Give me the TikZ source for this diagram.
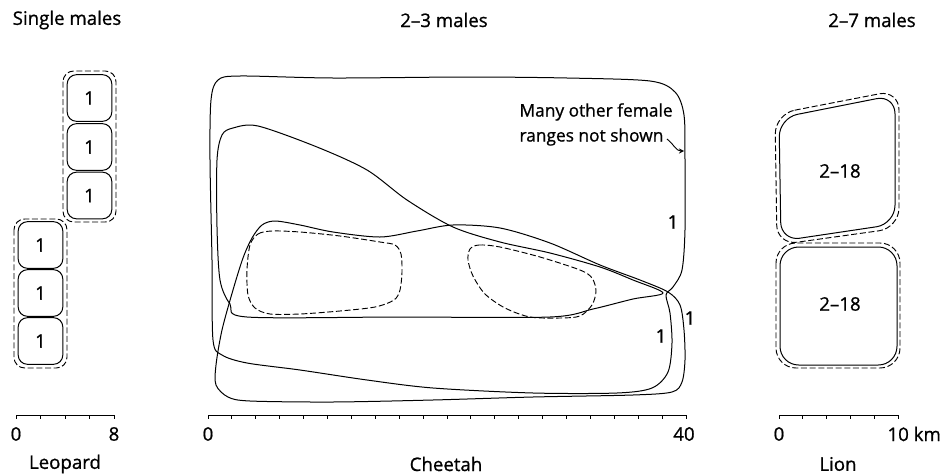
\documentclass[tikz,border=0pt]{standalone}
\usepackage{fontspec}
\setmainfont{Open Sans}[FakeBold=0.9]
\usetikzlibrary{arrows, positioning}

\begin{document}
\begin{tikzpicture}[>=stealth, x=0.75pt, y=-0.75pt, line width=0.75pt,
    fem/.style={line width=0.75pt},
    male/.style={line width=0.7pt, dash pattern=on 4.5pt off 2pt},
    lbl/.style={font=\fontsize{14}{16.5}\selectfont, inner sep=0pt},
    note/.style={font=\fontsize{13}{15}\selectfont, inner sep=0pt, anchor=west},
    fbox/.style={draw, rounded corners=7pt, minimum width=33.5pt, minimum height=35pt, inner sep=0pt, font=\fontsize{14}{16.5}\selectfont}]
    \useasboundingbox (0,0) rectangle (950,475);

    % --- Leopard ---
    \begin{scope}
        \node[lbl] (lpTitle) at (67,20) {Single males};
        \node[fbox] (lpA1) at (89.5,98) {1};
        \node[fbox] (lpA2) at (89.5,147) {1};
        \node[fbox] (lpA3) at (89.5,195.5) {1};
        \node[fbox] (lpB1) at (40.5,245) {1};
        \node[fbox] (lpB2) at (40.5,293) {1};
        \node[fbox] (lpB3) at (40.5,341) {1};
        \draw[male, rounded corners=8pt] (63,71) rectangle (116,222);
        \draw[male, rounded corners=8pt] (14,219) rectangle (67,368);
        \draw (16,415) -- (114,415);
        \foreach \i in {0,...,4} \draw (16+24.5*\i,415) -- ++(0,4);
        \node[lbl] (lpZero) at (16,434) {0};
        \node[lbl] (lpEight) at (114,434) {8};
        \node[lbl] (lpName) at (65,464) {Leopard};
    \end{scope}

    % --- Cheetah ---
    \begin{scope}
        \node[lbl] (chTitle) at (444,20) {2–3 males};
        % female ranges
        \draw[fem] plot[smooth cycle, tension=0.5] coordinates {
            (218,80) (240,76) (333,78) (467,77) (567,78) (650,81) (675,92) (684,115)
            (685,160) (685,230) (682,270) (673,287) (666,295) (670,313) (672,343)
            (668,372) (652,388) (617,393) (533,393) (433,388) (367,380) (300,370)
            (247,363) (222,355) (213,340) (212,260) (210,160) (211,100)};
        \draw[fem] plot[smooth cycle, tension=0.5] coordinates {
            (233,128) (258,126) (317,147) (367,170) (407,200) (453,227) (500,242)
            (550,253) (600,267) (633,280) (663,293) (633,299) (593,309) (550,317)
            (400,317) (247,317) (230,304) (220,280) (217,227) (217,160) (222,135)};
        \draw[fem] plot[smooth cycle, tension=0.5] coordinates {
            (262,225) (275,221) (300,225) (333,232) (380,237) (417,231) (453,225)
            (500,228) (550,243) (600,265) (640,280) (668,292) (680,305) (684,330)
            (685,360) (682,382) (672,392) (633,395) (533,397) (433,400) (333,402)
            (250,401) (228,397) (216,385) (216,365) (222,330) (233,290) (243,258)
            (252,238)};
        % male territories
        \draw[male] plot[smooth cycle, tension=0.5] coordinates {
            (250,245) (258,234) (272,231) (300,232) (340,236) (380,242) (395,245)
            (401,254) (402,272) (400,290) (394,300) (375,307) (340,311) (300,314)
            (270,314) (255,308) (248,295) (247,270)};
        \draw[male] plot[smooth cycle, tension=0.5] coordinates {
            (470,249) (479,245) (500,247) (540,257) (580,270) (592,278) (596,291)
            (592,305) (580,316) (560,318) (530,317) (505,308) (485,294) (473,276)
            (468,260)};
        \node[lbl] (chOneA) at (673,222) {1};
        \node[lbl] (chOneB) at (661,336) {1};
        \node[lbl] (chOneC) at (690,318) {1};
        \node[note] (chNoteA) at (519,112) {Many other female};
        \node[note] (chNoteB) at (519,137) {ranges not shown};
        \coordinate (chTip) at (684,151);
        \draw[->, line width=0.7pt] (chNoteB.east) ++(3,2) to[out=-35, in=180] (chTip);
        \draw (208,415) -- (686,415);
        \foreach \i in {0,...,20} \draw (208+23.9*\i,415) -- ++(0,4);
        \node[lbl] (chZero) at (208,434) {0};
        \node[lbl] (chForty) at (684,434) {40};
        \node[lbl] (chName) at (446,464) {Cheetah};
    \end{scope}

    % --- Lion ---
    \begin{scope}
        \node[lbl] (lnTitle) at (872,20) {2–7 males};
        \draw[fem, rounded corners=14pt] (779,118) -- (895,95) -- (895,224) -- (781,241) -- cycle;
        \draw[male, rounded corners=15pt] (775,114) -- (899,90) -- (899,228) -- (777,245) -- cycle;
        \draw[fem, rounded corners=14pt] (780,247) rectangle (897,365);
        \draw[male, rounded corners=15pt] (776,243) rectangle (900,368);
        \node[lbl] (lnUpper) at (840,171) {2–18};
        \node[lbl] (lnLower) at (840,304) {2–18};
        \draw (779,415) -- (898,415);
        \foreach \i in {0,...,5} \draw (779+23.8*\i,415) -- ++(0,4);
        \node[lbl] (lnZero) at (779,434) {0};
        \node[lbl, anchor=west] (lnTen) at (887,434) {10 km};
        \node[lbl] (lnName) at (838,464) {Lion};
    \end{scope}
\end{tikzpicture}
\end{document}
